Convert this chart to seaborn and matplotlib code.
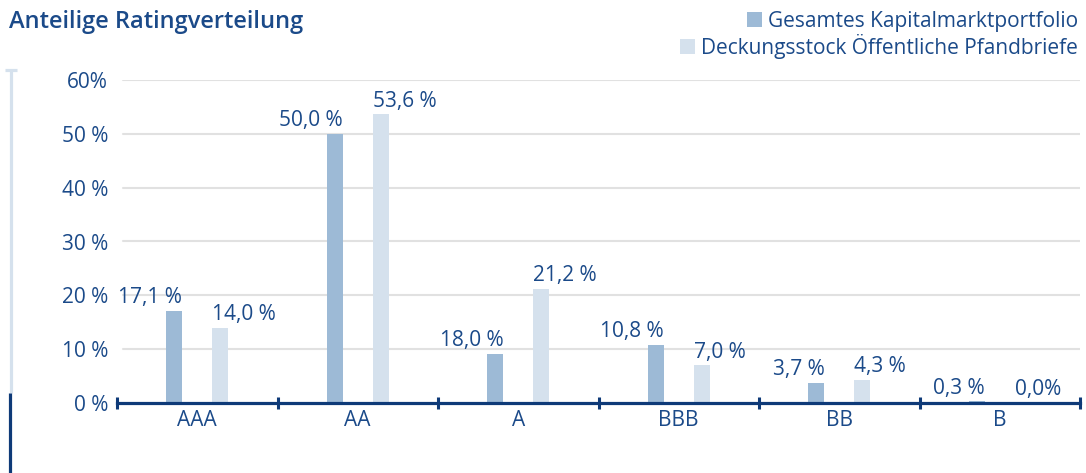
import matplotlib
matplotlib.use("Agg")
import matplotlib.pyplot as plt
from matplotlib.lines import Line2D
from matplotlib.patches import Rectangle
import seaborn as sns
import pandas as pd

# ---- data ----
categories = ["AAA", "AA", "A", "BBB", "BB", "B"]
series_names = ["Gesamtes Kapitalmarktportfolio", "Deckungsstock Öffentliche Pfandbriefe"]
# bar heights as drawn in the reference (the A bar of the first series is drawn at ~9 %)
gesamt = [17.1, 50.0, 9.1, 10.8, 3.7, 0.3]
deckung = [14.0, 53.6, 21.2, 7.0, 4.3, 0.0]
gesamt_labels = ["17,1 %", "50,0 %", "18,0 %", "10,8 %", "3,7 %", "0,3 %"]
deckung_labels = ["14,0 %", "53,6 %", "21,2 %", "7,0 %", "4,3 %", "0,0%"]
y_ticks = [0, 10, 20, 30, 40, 50, 60]
y_tick_labels = ["0 %", "10 %", "20 %", "30 %", "40 %", "50 %", "60%"]
title = "Anteilige Ratingverteilung"

# ---- style ----
TEXT = "#1b4a89"
AXIS = "#0e3a78"
DARK = "#9dbad6"
LIGHT = "#d5e1ed"
GRID = "#e1e1e1"
FS = 15

sns.set_theme(style="white")
plt.rcParams["font.family"] = ["Open Sans", "DejaVu Sans"]

W, H = 1086, 473
fig = plt.figure(figsize=(W / 100, H / 100), dpi=100)
fig.patch.set_facecolor("white")

def fx(px):
    return px / W

def fy(py):
    return 1 - py / H

ax = fig.add_axes([fx(117), fy(403), fx(1080 - 117), (403 - 80) / H])

df = pd.DataFrame({
    "Rating": categories * 2,
    "Wert": gesamt + deckung,
    "Serie": [series_names[0]] * len(categories) + [series_names[1]] * len(categories),
})

sns.barplot(data=df, x="Rating", y="Wert", hue="Serie", order=categories,
            hue_order=series_names, palette=[DARK, LIGHT], width=0.572, gap=0.65,
            legend=False, ax=ax, saturation=1, linewidth=0)

ax.set_xlim(-0.5, len(categories) - 0.5)
ax.set_ylim(0, 60)
ax.set_xlabel("")
ax.set_ylabel("")

# grid lines
for t in y_ticks[1:]:
    ax.axhline(t, xmin=6 / 963, xmax=1, color=GRID, lw=1.5, zorder=0)

# spines
for s in ["top", "right", "left"]:
    ax.spines[s].set_visible(False)
ax.spines["bottom"].set_color(AXIS)
ax.spines["bottom"].set_linewidth(2.3)
ax.spines["bottom"].set_zorder(5)

# y ticks
ax.set_yticks(y_ticks)
ax.set_yticklabels(y_tick_labels)
ax.tick_params(axis="y", length=0, pad=6.5, labelsize=FS, labelcolor=TEXT)

# x ticks: boundaries as major ticks, labels at minor
bounds = [i - 0.5 for i in range(len(categories) + 1)]
ax.set_xticks(bounds)
ax.set_xticklabels([""] * len(bounds))
ax.set_xticks(range(len(categories)), minor=True)
ax.set_xticklabels(categories, minor=True)
ax.tick_params(axis="x", which="major", bottom=True, direction="inout", length=8.5,
               width=2.2, color=AXIS)
ax.tick_params(axis="x", which="minor", bottom=True, length=0, pad=5, labelsize=FS,
               labelcolor=TEXT)

# value labels
for cont, labs, side in zip(ax.containers, [gesamt_labels, deckung_labels], ["right", "left"]):
    for bar, lab in zip(cont, labs):
        x = bar.get_x() + (bar.get_width() if side == "right" else 0)
        ax.annotate(lab, (x, bar.get_height()), xytext=(0, 5.5), textcoords="offset points",
                    ha=side, va="baseline", fontsize=FS, color=TEXT)

# title
fig.text(fx(9), fy(28), title, ha="left", va="baseline", fontsize=17, color=TEXT,
         fontweight="semibold")

# legend
fig.canvas.draw()
renderer = fig.canvas.get_renderer()
leg_y = [27, 54]
for name, col, yb in zip(series_names, [DARK, LIGHT], leg_y):
    t = fig.text(fx(1078), fy(yb), name, ha="right", va="baseline", fontsize=FS, color=TEXT)
    bb = t.get_window_extent(renderer)
    sq = 15
    fig.patches.append(Rectangle((bb.x0 - 6 - sq, H - yb), sq, sq, transform=None,
                                 facecolor=col, edgecolor="none"))

# left decoration
fig.lines.append(Line2D([fx(10.5), fx(10.5)], [fy(70), fy(393)], transform=fig.transFigure,
                        color=LIGHT, lw=2.3, solid_capstyle="butt"))
fig.lines.append(Line2D([fx(4.5), fx(16.5)], [fy(70.5), fy(70.5)], transform=fig.transFigure,
                        color=LIGHT, lw=2.3, solid_capstyle="butt"))
fig.lines.append(Line2D([fx(10), fx(10)], [fy(393), fy(473)], transform=fig.transFigure,
                        color=AXIS, lw=2.3, solid_capstyle="butt"))

fig.savefig("out.png", dpi=100, facecolor="white")
